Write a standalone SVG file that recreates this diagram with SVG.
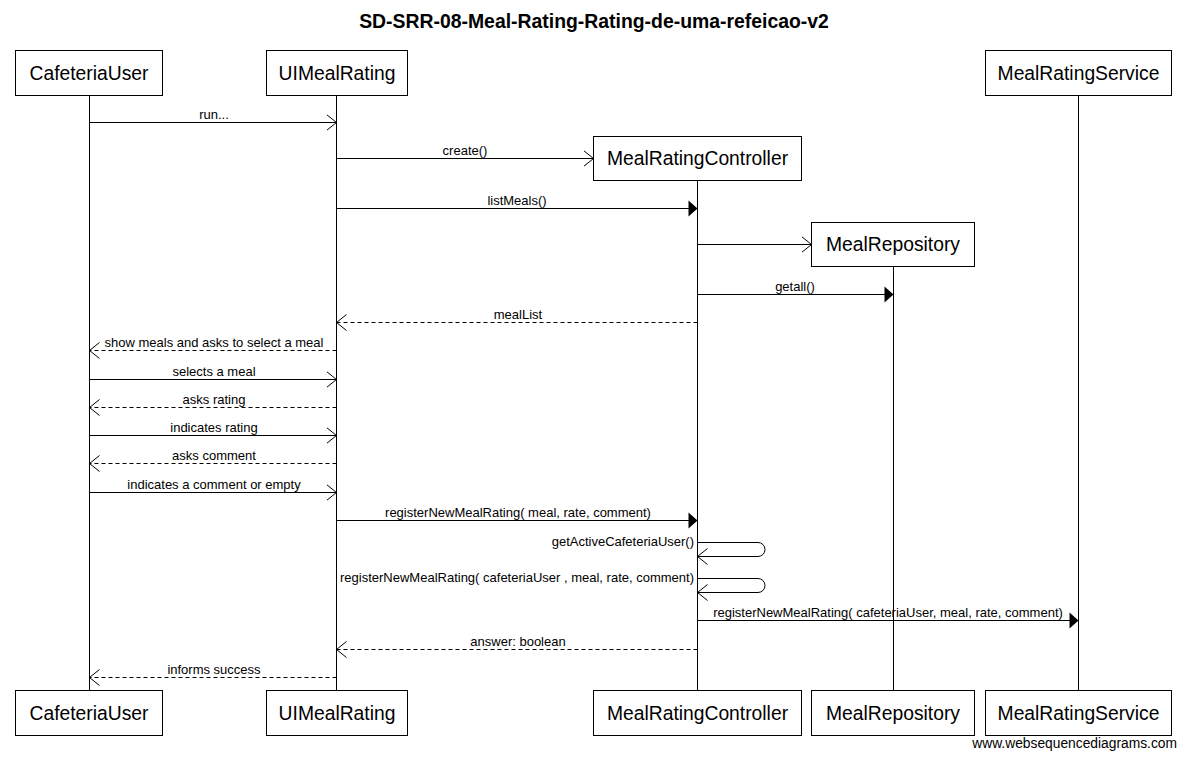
<svg xmlns="http://www.w3.org/2000/svg" width="1186" height="759" viewBox="0 0 1186 759">
<style>
  .box{fill:#fff;stroke:#000;stroke-width:1}
  .pt{font-family:"Liberation Sans",Arial,sans-serif;font-size:19.3px;fill:#000;text-anchor:middle}
  .life{stroke:#000;stroke-width:1}
  .msg{stroke:#000;stroke-width:1;fill:none}
  .dash{stroke-dasharray:4,3}
  .lbl{font-family:"Liberation Sans",Arial,sans-serif;font-size:13px;fill:#000;text-anchor:middle}
  .lblr{text-anchor:end}
  .title{font-family:"Liberation Sans",Arial,sans-serif;font-size:19.4px;font-weight:bold;fill:#000;text-anchor:middle}
  .foot{font-family:"Liberation Sans",Arial,sans-serif;font-size:13.8px;fill:#000;text-anchor:end}
</style>
<defs>
  <marker id="open" markerWidth="12" markerHeight="18" refX="10" refY="9" orient="auto" markerUnits="userSpaceOnUse">
    <path d="M0,1 L10,9 L0,17" fill="none" stroke="#000" stroke-width="1"/>
  </marker>
  <marker id="filled" markerWidth="12" markerHeight="18" refX="10" refY="9" orient="auto" markerUnits="userSpaceOnUse">
    <path d="M1,1 L10,9 L1,17 Z" fill="#000" stroke="none"/>
  </marker>
</defs>
<rect width="1186" height="759" fill="#fff"/>
<text class="title" x="594" y="28">SD-SRR-08-Meal-Rating-Rating-de-uma-refeicao-v2</text>

<g id="lifelines">
  <line class="life" x1="89.5" y1="95" x2="89.5" y2="690"/>
  <line class="life" x1="336.5" y1="95" x2="336.5" y2="690"/>
  <line class="life" x1="697.5" y1="180" x2="697.5" y2="690"/>
  <line class="life" x1="893.5" y1="266" x2="893.5" y2="690"/>
  <line class="life" x1="1078.5" y1="95" x2="1078.5" y2="690"/>
</g>

<g id="CafeteriaUser">
  <rect class="box" x="15.5" y="50.5" width="147" height="45"/>
  <text class="pt" x="89" y="80">CafeteriaUser</text>
  <rect class="box" x="15.5" y="690.5" width="147" height="45"/>
  <text class="pt" x="89" y="720">CafeteriaUser</text>
</g>
<g id="UIMealRating">
  <rect class="box" x="266.5" y="50.5" width="141" height="45"/>
  <text class="pt" x="337" y="80">UIMealRating</text>
  <rect class="box" x="266.5" y="690.5" width="141" height="45"/>
  <text class="pt" x="337" y="720">UIMealRating</text>
</g>
<g id="MealRatingController">
  <rect class="box" x="593.5" y="136.5" width="208" height="44"/>
  <text class="pt" x="697.5" y="165">MealRatingController</text>
  <rect class="box" x="593.5" y="690.5" width="208" height="45"/>
  <text class="pt" x="697.5" y="720">MealRatingController</text>
</g>
<g id="MealRepository">
  <rect class="box" x="811.5" y="222.5" width="163" height="44"/>
  <text class="pt" x="893" y="251">MealRepository</text>
  <rect class="box" x="811.5" y="690.5" width="163" height="45"/>
  <text class="pt" x="893" y="720">MealRepository</text>
</g>
<g id="MealRatingService">
  <rect class="box" x="985.5" y="50.5" width="186" height="45"/>
  <text class="pt" x="1078.5" y="80">MealRatingService</text>
  <rect class="box" x="985.5" y="690.5" width="186" height="45"/>
  <text class="pt" x="1078.5" y="720">MealRatingService</text>
</g>

<g id="connectors">
  <line class="msg" x1="89.5" y1="122.5" x2="336.5" y2="122.5" marker-end="url(#open)"/>
  <text class="lbl" x="214" y="119">run...</text>

  <line class="msg" x1="336.5" y1="158.5" x2="593.5" y2="158.5" marker-end="url(#open)"/>
  <text class="lbl" x="465" y="155">create()</text>

  <line class="msg" x1="336.5" y1="208.5" x2="697.5" y2="208.5" marker-end="url(#filled)"/>
  <text class="lbl" x="517" y="205">listMeals()</text>

  <line class="msg" x1="697.5" y1="244.5" x2="811.5" y2="244.5" marker-end="url(#open)"/>

  <line class="msg" x1="697.5" y1="294.5" x2="893.5" y2="294.5" marker-end="url(#filled)"/>
  <text class="lbl" x="795" y="291">getall()</text>

  <line class="msg dash" x1="697.5" y1="322.5" x2="336.5" y2="322.5" marker-end="url(#open)"/>
  <text class="lbl" x="518" y="319">mealList</text>

  <line class="msg dash" x1="336.5" y1="350.5" x2="89.5" y2="350.5" marker-end="url(#open)"/>
  <text class="lbl" x="214" y="347">show meals and asks to select a meal</text>

  <line class="msg" x1="89.5" y1="379.5" x2="336.5" y2="379.5" marker-end="url(#open)"/>
  <text class="lbl" x="214" y="376">selects a meal</text>

  <line class="msg dash" x1="336.5" y1="407.5" x2="89.5" y2="407.5" marker-end="url(#open)"/>
  <text class="lbl" x="214" y="404">asks rating</text>

  <line class="msg" x1="89.5" y1="435.5" x2="336.5" y2="435.5" marker-end="url(#open)"/>
  <text class="lbl" x="214" y="432">indicates rating</text>

  <line class="msg dash" x1="336.5" y1="463.5" x2="89.5" y2="463.5" marker-end="url(#open)"/>
  <text class="lbl" x="214" y="460">asks comment</text>

  <line class="msg" x1="89.5" y1="492.5" x2="336.5" y2="492.5" marker-end="url(#open)"/>
  <text class="lbl" x="214" y="489">indicates a comment or empty</text>

  <line class="msg" x1="336.5" y1="520.5" x2="697.5" y2="520.5" marker-end="url(#filled)"/>
  <text class="lbl" x="518" y="517">registerNewMealRating( meal, rate, comment)</text>

  <path class="msg" d="M697.5,542.5 H758 A7,7 0 0 1 758,556.5 H697.5" marker-end="url(#open)"/>
  <text class="lbl lblr" x="694" y="546">getActiveCafeteriaUser()</text>

  <path class="msg" d="M697.5,578.5 H758 A7,7 0 0 1 758,592.5 H697.5" marker-end="url(#open)"/>
  <text class="lbl lblr" x="694" y="582">registerNewMealRating( cafeteriaUser , meal, rate, comment)</text>

  <line class="msg" x1="697.5" y1="620.5" x2="1078.5" y2="620.5" marker-end="url(#filled)"/>
  <text class="lbl" x="888" y="617">registerNewMealRating( cafeteriaUser, meal, rate, comment)</text>

  <line class="msg dash" x1="697.5" y1="649.5" x2="336.5" y2="649.5" marker-end="url(#open)"/>
  <text class="lbl" x="518" y="646">answer: boolean</text>

  <line class="msg dash" x1="336.5" y1="677.5" x2="89.5" y2="677.5" marker-end="url(#open)"/>
  <text class="lbl" x="214" y="674">informs success</text>
</g>

<text class="foot" x="1177" y="748">www.websequencediagrams.com</text>
</svg>
